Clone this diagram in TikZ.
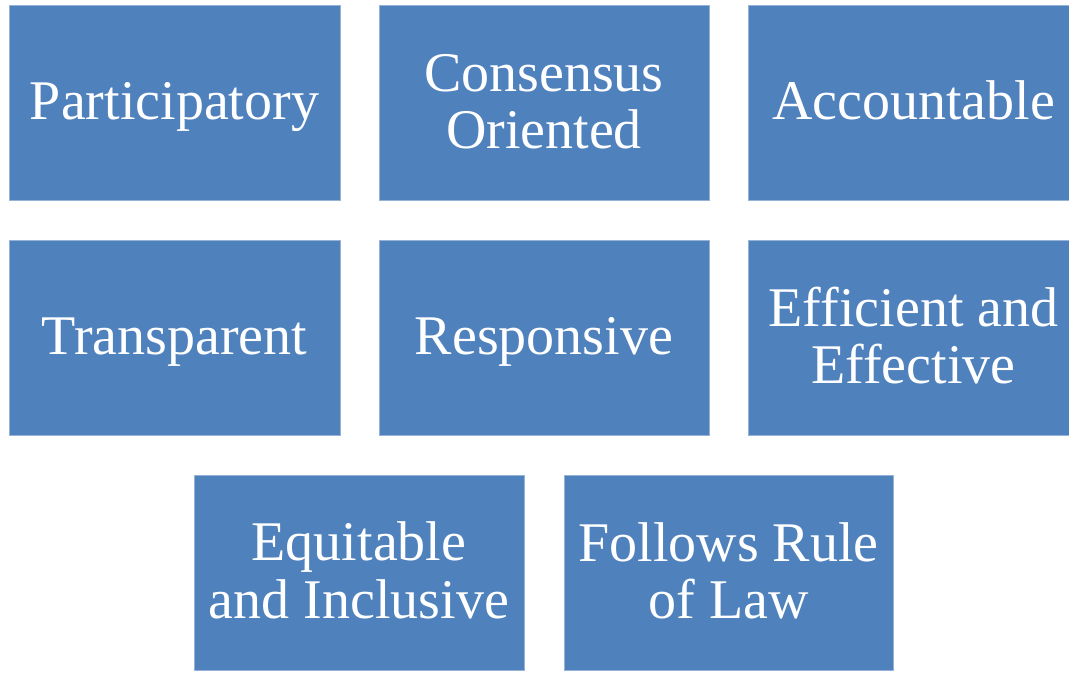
\documentclass[tikz,border=0pt]{standalone}
\usepackage{fontspec}
\setmainfont{Liberation Serif}
\definecolor{boxblue}{HTML}{4F81BD}
\newcommand{\lstrut}{\rule[-11.5pt]{0pt}{57pt}}
\begin{document}
\begin{tikzpicture}[x=1pt,y=1pt,
  cell/.style={fill=boxblue, draw=boxblue!60!white, line width=0.6pt, inner sep=0pt,
    minimum height=195pt, text=white, align=center,
    font=\fontsize{56}{57}\selectfont}]
\clip (0,0) rectangle (1069,-673);
\node[cell, minimum width=331pt] (p) at (174.5,-102.5) {\lstrut Participatory};
\node[cell, minimum width=330pt] (c) at (544,-102.5) {\lstrut Consensus\\\lstrut Oriented};
\node[cell, minimum width=331pt] (a) at (913.5,-102.5) {\lstrut Accountable};
\node[cell, minimum width=331pt] (t) at (174.5,-337.5) {\lstrut Transparent};
\node[cell, minimum width=330pt] (r) at (544,-337.5) {\lstrut Responsive};
\node[cell, minimum width=331pt] (e) at (913.5,-337.5) {\lstrut Efficient and\\\lstrut Effective};
\node[cell, minimum width=330pt] (q) at (359,-572.5) {\lstrut Equitable\\\lstrut and Inclusive};
\node[cell, minimum width=329pt] (f) at (728.5,-572.5) {\lstrut Follows Rule\\\lstrut of Law};
\end{tikzpicture}
\end{document}
